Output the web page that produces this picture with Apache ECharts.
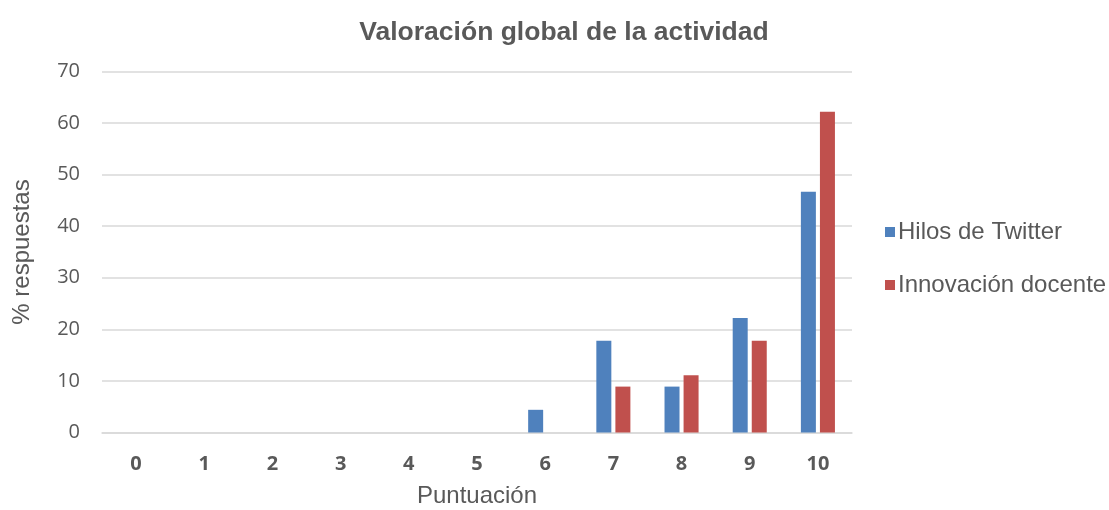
<!DOCTYPE html>
<html>
<head>
<meta charset="utf-8">
<script src="https://cdn.jsdelivr.net/npm/echarts@6/dist/echarts.min.js"></script>
<style>html,body{margin:0;padding:0;background:#fff}#c{width:1109px;height:510px}</style>
</head>
<body>
<div id="c"></div>
<script>
const categories = ['0','1','2','3','4','5','6','7','8','9','10'];
const hilosTwitter = [0, 0, 0, 0, 0, 0, 4.4, 17.8, 8.9, 22.2, 46.7];
const innovacionDocente = [0, 0, 0, 0, 0, 0, 0, 8.9, 11.1, 17.8, 62.2];
const seriesNames = ['Hilos de Twitter', 'Innovación docente'];

const chart = echarts.init(document.getElementById('c'));
chart.setOption({
  animation: false,
  title: {
    text: 'Valoración global de la actividad',
    left: 559, top: 14, textAlign: 'center',
    textStyle: { fontFamily: 'Liberation Sans', fontSize: 26.5, fontWeight: 'bold', color: '#595959' }
  },
  legend: {
    orient: 'vertical', left: 880, top: 215, itemGap: 29,
    itemWidth: 10, itemHeight: 10, icon: 'rect',
    textStyle: { fontFamily: 'Liberation Sans', fontSize: 24, color: '#595959', padding: [0,0,0,-2] },
    data: seriesNames
  },
  grid: { left: 102, right: 257, top: 71.5, bottom: 77.5, containLabel: false, outerBoundsMode: 'none' },
  xAxis: {
    type: 'category', data: categories,
    name: 'Puntuación', nameLocation: 'middle', nameGap: 52,
    nameTextStyle: { fontFamily: 'Liberation Sans', fontSize: 24, color: '#595959' },
    axisLine: { lineStyle: { color: '#D9D9D9', width: 1.5 } },
    axisTick: { show: false },
    axisLabel: { fontFamily: 'Open Sans', fontSize: 20, fontWeight: 'bold', color: '#595959', margin: 22 }
  },
  yAxis: {
    type: 'value', min: 0, max: 70, interval: 10,
    name: '% respuestas', nameLocation: 'middle', nameGap: 68, nameRotate: 90,
    nameTextStyle: { fontFamily: 'Liberation Sans', fontSize: 24, color: '#595959' },
    axisLine: { show: false }, axisTick: { show: false },
    splitLine: { lineStyle: { color: '#D9D9D9', width: 1.5 } },
    axisLabel: { fontFamily: 'Open Sans', fontSize: 20, color: '#595959', margin: 22 }
  },
  series: [
    { name: seriesNames[0], type: 'bar', data: hilosTwitter, barWidth: 15, barGap: '27%',
      itemStyle: { color: '#4F81BD' } },
    { name: seriesNames[1], type: 'bar', data: innovacionDocente, barWidth: 15,
      itemStyle: { color: '#C0504D' } }
  ]
});
</script>
</body>
</html>
